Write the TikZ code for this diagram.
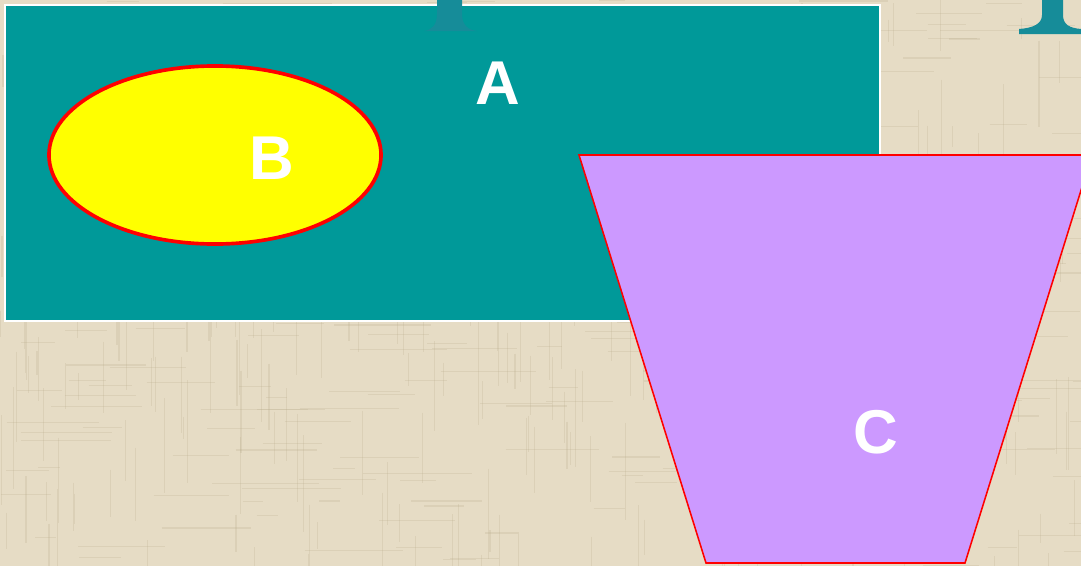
\documentclass[tikz,border=0pt]{standalone}
\usepackage{fontspec}
\setmainfont{Liberation Sans}
\definecolor{canvas}{HTML}{E6DCC5}
\definecolor{grain}{HTML}{B5A888}
\definecolor{setA}{HTML}{009999}
\definecolor{setB}{HTML}{FFFF00}
\definecolor{stem}{HTML}{168C99}
\definecolor{setC}{HTML}{CC99FF}
\tikzset{
  lbl/.style={text=white, font=\bfseries\fontsize{44}{44}\selectfont, inner sep=0pt},
  weave/.style={grain, line width=0.8pt, opacity=0.22}
}

\begin{document}
\begin{tikzpicture}[x=0.025cm, y=-0.025cm]
  \fill[canvas] (0,0) rectangle (1081,566);
  \useasboundingbox (0,0) rectangle (1081,566);
  % linen texture
  \pgfmathsetseed{11}
  \foreach \i in {1,...,320} {
    \pgfmathsetmacro\xx{rnd*1081}
    \pgfmathsetmacro\yy{rnd*566}
    \pgfmathsetmacro\ll{20+rnd*90}
    \draw[weave] (\xx,\yy) -- ++(\ll,0);
    \draw[weave] (\yy*1.9,\xx*0.52) -- ++(0,\ll);
  }
  % set A
  \filldraw[fill=setA, draw=white, line width=1.4pt] (5,5) rectangle (880,321);
  % bits of the cut-off title
  \fill[stem] (437,0) -- (462,0) -- (462,14) .. controls (462,25) and (468,30) .. (477,31)
    -- (424,31) .. controls (432,30) and (437,25) .. (437,14) -- cycle;
  \fill[stem] (1042,0) -- (1063,0) -- (1063,15) .. controls (1063,25) and (1070,28) .. (1081,29)
    -- (1081,34) -- (1019,34) -- (1019,29) .. controls (1033,28) and (1042,24) .. (1042,15) -- cycle;
  % set B
  \filldraw[fill=setB, draw=red, line width=2.6pt] (215,155) ellipse [x radius=4.15cm, y radius=2.225cm];
  % set C
  \filldraw[fill=setC, draw=red, line width=1.1pt] (579,155) -- (1092,155) -- (965,563) -- (706,563) -- cycle;
  \node[lbl] (labA) at (498,83) {A};
  \node[lbl] (labB) at (272,158) {B};
  \node[lbl] (labC) at (876,432) {C};
\end{tikzpicture}
\end{document}
